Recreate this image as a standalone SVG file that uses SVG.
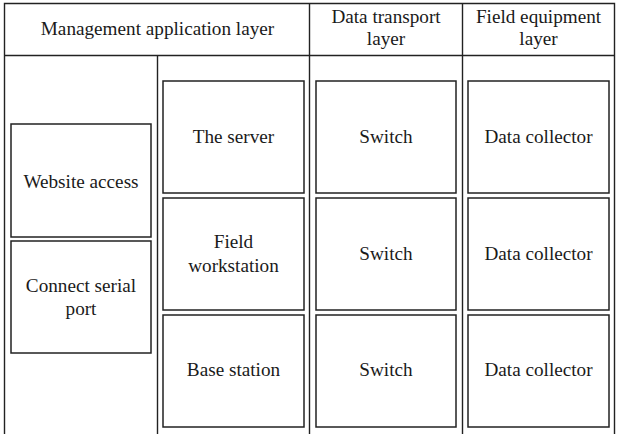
<svg xmlns="http://www.w3.org/2000/svg" width="618" height="434" viewBox="0 0 618 434">
  <style>
    .grid { stroke: #222; stroke-width: 1.4; fill: none; }
    .box { stroke: #222; stroke-width: 1.5; fill: #fff; }
    .lbl { font-family: "Liberation Serif", "Times New Roman", serif; font-size: 19.2px; fill: #1a1a1a; text-anchor: middle; }
  </style>
  <rect width="618" height="434" fill="#fff"/>

  <!-- table frame: outer border, header rule and column separators -->
  <g id="frame" class="grid">
    <path d="M4.5 434 V3.5 H614.5 V434"/>
    <line x1="4.5" y1="55.5" x2="614.5" y2="55.5"/>
    <line x1="157.5" y1="55.5" x2="157.5" y2="434"/>
    <line x1="309.5" y1="3.5" x2="309.5" y2="434"/>
    <line x1="462.5" y1="3.5" x2="462.5" y2="434"/>
  </g>

  <!-- column headings -->
  <g id="head-management">
    <text class="lbl" x="157.5" y="34.5">Management application layer</text>
  </g>
  <g id="head-transport">
    <text class="lbl" x="386" y="23">Data transport</text>
    <text class="lbl" x="386" y="45">layer</text>
  </g>
  <g id="head-field">
    <text class="lbl" x="538.5" y="23">Field equipment</text>
    <text class="lbl" x="538.5" y="45">layer</text>
  </g>

  <!-- access methods -->
  <g id="website-access">
    <rect class="box" x="11" y="124" width="140" height="113"/>
    <text class="lbl" x="81" y="188">Website access</text>
  </g>
  <g id="connect-serial">
    <rect class="box" x="11" y="241" width="140" height="112"/>
    <text class="lbl" x="81" y="292">Connect serial</text>
    <text class="lbl" x="81" y="315">port</text>
  </g>

  <!-- management nodes -->
  <g id="server">
    <rect class="box" x="163" y="81" width="141" height="112"/>
    <text class="lbl" x="233.5" y="143">The server</text>
  </g>
  <g id="field-workstation">
    <rect class="box" x="163" y="198" width="141" height="112"/>
    <text class="lbl" x="233.5" y="248">Field</text>
    <text class="lbl" x="233.5" y="271.5">workstation</text>
  </g>
  <g id="base-station">
    <rect class="box" x="163" y="315" width="141" height="112"/>
    <text class="lbl" x="233.5" y="376">Base station</text>
  </g>

  <!-- transport nodes -->
  <g id="switch-1">
    <rect class="box" x="316" y="81" width="140" height="112"/>
    <text class="lbl" x="386" y="143">Switch</text>
  </g>
  <g id="switch-2">
    <rect class="box" x="316" y="198" width="140" height="112"/>
    <text class="lbl" x="386" y="260">Switch</text>
  </g>
  <g id="switch-3">
    <rect class="box" x="316" y="315" width="140" height="112"/>
    <text class="lbl" x="386" y="376">Switch</text>
  </g>

  <!-- field equipment nodes -->
  <g id="collector-1">
    <rect class="box" x="468" y="81" width="141" height="112"/>
    <text class="lbl" x="538.5" y="143">Data collector</text>
  </g>
  <g id="collector-2">
    <rect class="box" x="468" y="198" width="141" height="112"/>
    <text class="lbl" x="538.5" y="260">Data collector</text>
  </g>
  <g id="collector-3">
    <rect class="box" x="468" y="315" width="141" height="112"/>
    <text class="lbl" x="538.5" y="376">Data collector</text>
  </g>

  <!-- no connectors between nodes -->
  <g id="connectors"></g>
</svg>
